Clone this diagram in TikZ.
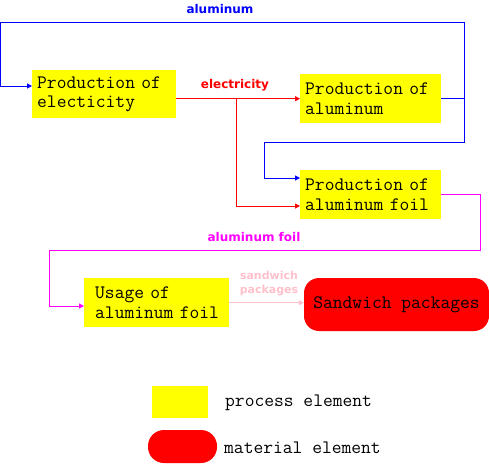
\documentclass[tikz,border=0pt]{standalone}
\usepackage{fontspec}
\newfontfamily\labfont{DejaVu Sans}
\usetikzlibrary{arrows.meta}
\definecolor{procyellow}{RGB}{255,255,0}
\definecolor{matred}{RGB}{255,0,0}
\definecolor{flowblue}{RGB}{0,0,255}
\definecolor{flowred}{RGB}{255,0,0}
\definecolor{flowmag}{RGB}{255,0,255}
\definecolor{flowpink}{RGB}{255,192,203}
\newcommand{\monofont}{\ttfamily\fontsize{19}{19.5}\selectfont}
\begin{document}
\begin{tikzpicture}[x=1pt,y=-1pt,
  proc/.style={fill=procyellow, draw=none, inner xsep=5pt, inner ysep=0pt, anchor=north west,
    align=left, font=\monofont},
  mat/.style={fill=matred, draw=none, rounded corners=15pt, inner sep=0pt, font=\monofont},
  legtext/.style={anchor=west, inner sep=0pt, font=\monofont},
  flow/.style={line width=1pt, -{Triangle[length=5pt,width=5pt]}},
  lab/.style={inner sep=0pt, font=\labfont\bfseries\fontsize{12}{13}\selectfont}
]
\useasboundingbox (0,0) rectangle (489,463);

% process nodes
\node[proc, text width=134pt, minimum height=48pt] (elec) at (32,70) {Production of\\electicity};
\node[proc, text width=131pt, minimum height=49pt] (alu) at (300,74) {Production of\\aluminum};
\node[proc, text width=131pt, minimum height=49pt] (foil) at (300,170) {Production of\\aluminum foil};
\node[proc, text width=135pt, minimum height=49pt] (usage) at (84,278) {\hspace*{6pt}Usage of\\\hspace*{6pt}aluminum foil};
\node[mat, minimum width=185pt, minimum height=53pt] (sand) at (396.5,304.5) {Sandwich packages};

% legend
\node[fill=procyellow, inner sep=0pt, minimum width=56pt, minimum height=32pt] (legp) at (180,402) {};
\node[fill=matred, inner sep=0pt, rounded corners=16pt, minimum width=69pt, minimum height=33pt] (legm) at (182.5,446.5) {};
\node[legtext] (legpt) at (225,403) {process element};
\node[legtext] (legmt) at (224,447.5) {material element};

% coordinates
\coordinate (bR) at (464,22);
\coordinate (bL) at (0,86);
\coordinate (bJ) at (464,142);
\coordinate (bK) at (264,178);
\coordinate (rJ) at (236,98.5);
\coordinate (rK) at (236,206);
\coordinate (mR) at (480,250);
\coordinate (mL) at (49,306);

% blue aluminum flows
\draw[flow, flowblue] (alu.east) -| (bR) -| (bL) -- (elec.west |- bL);
\draw[flow, flowblue] (alu.east) -| (bJ) -| (bK) -- (foil.west |- bK);
% red electricity flows
\draw[flow, flowred] (elec.east |- alu.west) -- (alu.west);
\draw[flow, flowred] (rJ) -- (rK) -- (foil.west |- rK);
% magenta aluminum foil
\draw[flow, flowmag] (foil.east) -| (mR) -| (mL) -- (usage.west |- mL);
% pink sandwich packages
\draw[flow, flowpink] (usage.east) -- (sand.west |- usage.east);

% labels
\node[lab, text=flowblue] (lalu) at (220,9) {aluminum};
\node[lab, text=flowred] (lel) at (235,85) {electricity};
\node[lab, text=flowmag] (lfoil) at (254,237) {aluminum foil};
\node[lab, text=flowpink, align=center, font=\labfont\bfseries\fontsize{11}{14}\selectfont] (lsand) at (269,284) {sandwich\\packages};
\end{tikzpicture}
\end{document}
